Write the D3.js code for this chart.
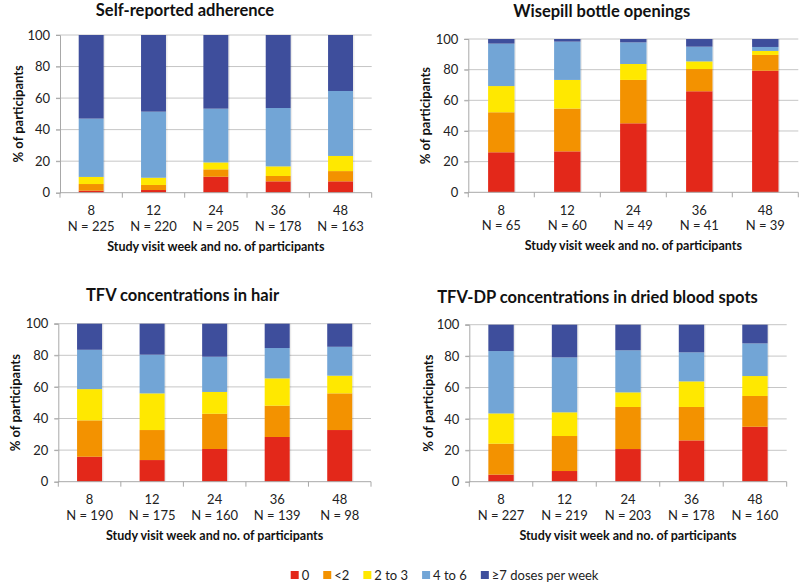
<!DOCTYPE html>
<html>
<head>
<meta charset="utf-8">
<script src="https://cdn.jsdelivr.net/npm/d3@7/dist/d3.min.js"></script>
<style>
html,body{margin:0;padding:0;background:#fff;}
svg{display:block;font-family:Lato,"Open Sans",sans-serif;}
</style>
</head>
<body>
<svg id="chart" width="800" height="585"></svg>
<script>
// ---------- DATA ----------
const weeks = ["8", "12", "24", "36", "48"];
const seriesNames = ["0", "<2", "2 to 3", "4 to 6", "≥7 doses per week"];
const seriesColors = ["#e3281a", "#f39200", "#ffe800", "#72a5d6", "#3e4e9c"];
const yTicks = [0, 20, 40, 60, 80, 100];

const selfTitle = "Self-reported adherence";
const selfN = [225, 220, 205, 178, 163];
const self0 = [1.3, 1.7, 10.1, 7.2, 7.2];
const selfLt2 = [4.2, 3.2, 4.7, 3.4, 6.5];
const self2to3 = [4.5, 4.6, 4.4, 6.1, 9.6];
const self4to6 = [37.0, 41.9, 34.1, 37.0, 41.2];
const self7 = [53.0, 48.6, 46.7, 46.3, 35.5];

const wiseTitle = "Wisepill bottle openings";
const wiseN = [65, 60, 49, 41, 39];
const wise0 = [26.1, 26.7, 45.0, 65.9, 79.3];
const wiseLt2 = [26.1, 27.9, 28.3, 14.5, 10.3];
const wise2to3 = [17.1, 18.7, 10.4, 5.0, 2.6];
const wise4to6 = [27.7, 25.0, 14.1, 9.6, 2.6];
const wise7 = [3.0, 1.7, 2.2, 5.0, 5.2];

const hairTitle = "TFV concentrations in hair";
const hairN = [190, 175, 160, 139, 98];
const hair0 = [15.8, 13.7, 20.7, 28.3, 32.7];
const hairLt2 = [23.0, 19.0, 22.3, 19.8, 23.2];
const hair2to3 = [19.8, 23.2, 13.8, 17.3, 11.2];
const hair4to6 = [24.9, 24.5, 22.3, 19.2, 18.3];
const hair7 = [16.5, 19.6, 20.9, 15.4, 14.6];

const dbsTitle = "TFV-DP concentrations in dried blood spots";
const dbsN = [227, 219, 203, 178, 160];
const dbs0 = [4.5, 6.8, 20.8, 26.3, 35.0];
const dbsLt2 = [19.7, 22.3, 26.8, 21.3, 19.6];
const dbs2to3 = [19.3, 15.1, 9.3, 16.3, 12.7];
const dbs4to6 = [39.7, 35.0, 26.8, 18.5, 20.8];
const dbs7 = [16.8, 20.8, 16.3, 17.6, 11.9];

const yTitle = "% of participants";
const xTitle = "Study visit week and no. of participants";

// ---------- LAYOUT ----------
const panels = [
  {title: selfTitle, n: selfN, s: [self0, selfLt2, self2to3, self4to6, self7],
   left: 60, right: 371.7, top: 35, bottom: 192.7, titleX: 185, titleY: 16, yTitleX: 18},
  {title: wiseTitle, n: wiseN, s: [wise0, wiseLt2, wise2to3, wise4to6, wise7],
   left: 468.3, right: 798.3, top: 39, bottom: 192.3, titleX: 601.7, titleY: 17, yTitleX: 425},
  {title: hairTitle, n: hairN, s: [hair0, hairLt2, hair2to3, hair4to6, hair7],
   left: 58.3, right: 371, top: 323.7, bottom: 481.7, titleX: 182.5, titleY: 301, yTitleX: 15},
  {title: dbsTitle, n: dbsN, s: [dbs0, dbsLt2, dbs2to3, dbs4to6, dbs7],
   left: 469.3, right: 786.7, top: 324.7, bottom: 481.7, titleX: 597.5, titleY: 303, yTitleX: 428}
];

const svg = d3.select("#chart");
svg.append("rect").attr("width", 800).attr("height", 585).attr("fill", "#fff");

panels.forEach(p => {
  const g = svg.append("g");
  const x = d3.scaleBand().domain(weeks).range([p.left, p.right]).paddingInner(0.6).paddingOuter(0.3);
  const xb = d3.scaleBand().domain(weeks).range([p.left, p.right]).padding(0);
  const y = d3.scaleLinear().domain([0, 100]).range([p.bottom, p.top]);

  // gridlines
  g.selectAll("line.grid").data(yTicks.filter(t => t > 0)).join("line")
    .attr("x1", p.left - 4).attr("x2", p.right)
    .attr("y1", d => y(d)).attr("y2", d => y(d))
    .attr("stroke", "#c6c6c6").attr("stroke-width", 1);

  // stacked data
  const rows = weeks.map((w, i) => {
    const r = {week: w};
    seriesNames.forEach((k, j) => r[k] = p.s[j][i]);
    return r;
  });
  const stack = d3.stack().keys(seriesNames)(rows);

  // shadow
  g.selectAll("rect.shadow").data(rows).join("rect")
    .attr("x", d => x(d.week) + 1.5).attr("width", x.bandwidth())
    .attr("y", d => y(d3.sum(seriesNames, k => d[k])))
    .attr("height", d => y(0) - y(d3.sum(seriesNames, k => d[k])))
    .attr("fill", "#000").attr("opacity", 0.08);

  stack.forEach((layer, j) => {
    g.selectAll(null).data(layer).join("rect")
      .attr("x", d => x(d.data.week))
      .attr("width", x.bandwidth())
      .attr("y", d => y(d[1]))
      .attr("height", d => y(d[0]) - y(d[1]))
      .attr("fill", seriesColors[j]);
  });

  // y axis
  const ya = d3.axisLeft(y).tickValues(yTicks).tickSize(4).tickPadding(6);
  const yg = g.append("g").attr("transform", `translate(${p.left},0)`).call(ya);
  yg.select(".domain").attr("stroke", "#a8a8a8");
  yg.selectAll(".tick line").attr("stroke", "#a8a8a8");
  yg.selectAll(".tick text").attr("font-size", 13).attr("fill", "#222").attr("font-family", "Lato");

  // x axis line + boundary ticks
  g.append("line").attr("x1", p.left).attr("x2", p.right)
    .attr("y1", p.bottom).attr("y2", p.bottom).attr("stroke", "#a8a8a8");
  const bounds = weeks.map(w => xb(w)).concat([xb(weeks[weeks.length - 1]) + xb.bandwidth()]);
  g.selectAll(null).data(bounds).join("line")
    .attr("x1", d => d).attr("x2", d => d)
    .attr("y1", p.bottom).attr("y2", p.bottom + 5)
    .attr("stroke", "#a8a8a8");

  // x labels
  g.selectAll(null).data(weeks).join("text")
    .attr("x", d => x(d) + x.bandwidth() / 2).attr("y", p.bottom + 22.5)
    .attr("text-anchor", "middle").attr("font-size", 13).attr("fill", "#222")
    .text(d => d);
  g.selectAll(null).data(p.n).join("text")
    .attr("x", (d, i) => x(weeks[i]) + x.bandwidth() / 2).attr("y", p.bottom + 38)
    .attr("text-anchor", "middle").attr("font-size", 13).attr("fill", "#222")
    .text(d => "N = " + d);

  // x title
  g.append("text").attr("x", (p.left + p.right) / 2).attr("y", p.bottom + 58)
    .attr("text-anchor", "middle").attr("font-size", 12.5).attr("font-weight", "bold").attr("fill", "#111")
    .text(xTitle);

  // y title
  g.append("text")
    .attr("transform", `translate(${p.yTitleX + 4.5},${(p.top + p.bottom) / 2}) rotate(-90)`)
    .attr("text-anchor", "middle").attr("font-size", 13).attr("font-weight", "bold").attr("fill", "#111")
    .text(yTitle);

  // title
  g.append("text").attr("x", p.titleX).attr("y", p.titleY)
    .attr("text-anchor", "middle").attr("font-size", 16.5).attr("font-weight", "bold").attr("fill", "#111")
    .text(p.title);
});

// ---------- LEGEND ----------
const leg = svg.append("g");
let lx = 290.7;
const ly = 575.5;
seriesNames.forEach((name, i) => {
  leg.append("rect").attr("x", lx).attr("y", ly - 4.5).attr("width", 8).attr("height", 8).attr("fill", seriesColors[i]);
  const t = leg.append("text").attr("x", lx + 11).attr("y", ly + 4.5)
    .attr("font-size", 13).attr("fill", "#222").text(name);
  lx += 11 + t.node().getComputedTextLength() + 14;
});
</script>
</body>
</html>
